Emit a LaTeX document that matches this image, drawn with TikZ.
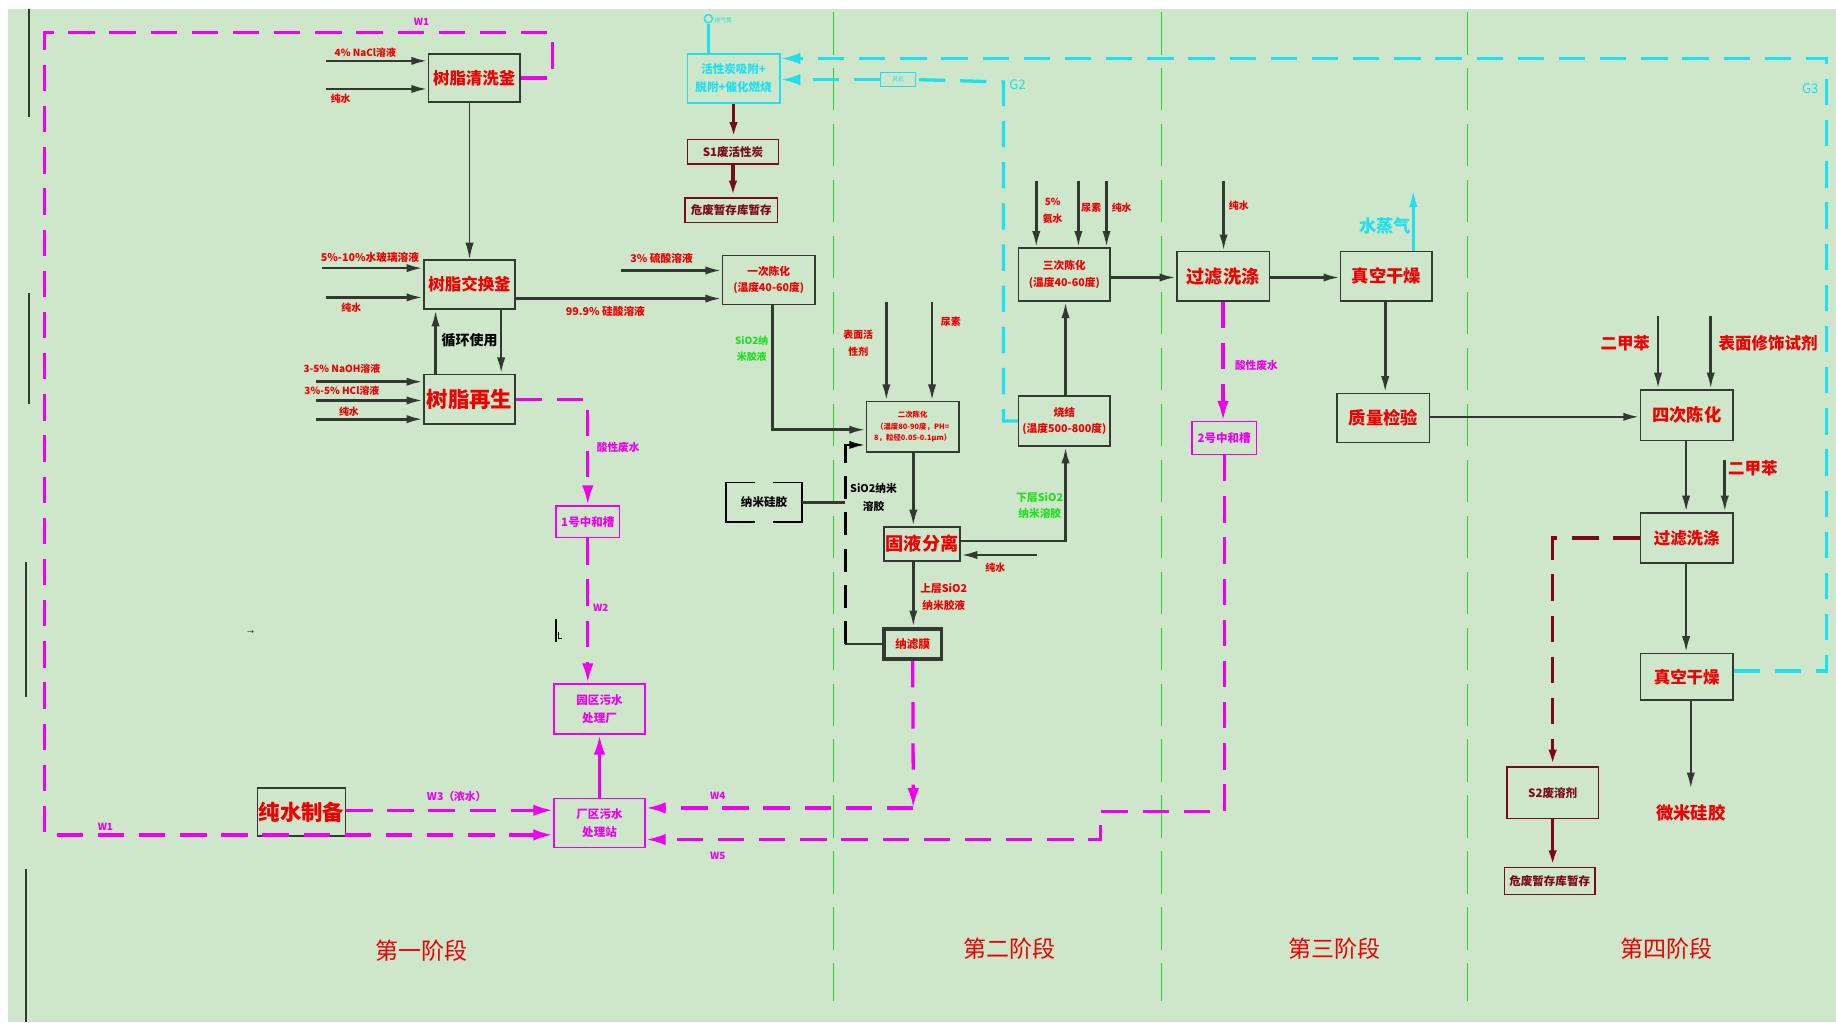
\documentclass[tikz,border=0pt]{standalone}
\usepackage{fontspec}
\setmainfont{Noto Sans CJK SC}
\usetikzlibrary{arrows.meta}
\definecolor{bg}{HTML}{CEE6CA}
\definecolor{rd}{HTML}{F00000}
\definecolor{mg}{HTML}{F000F0}
\definecolor{cy}{HTML}{20E0F0}
\definecolor{dr}{HTML}{7A0A14}
\definecolor{bk}{HTML}{333833}
\definecolor{gr}{HTML}{30D030}
\definecolor{lg}{HTML}{20E020}
\newcommand\fsz[2]{\fontsize{#1}{#2}\selectfont}
\newcommand\mybox[7]{\node[#6, minimum width={(#4-#2)*0.025cm}, minimum height={(#5-#3)*0.025cm}, inner sep=0pt] (#1) at ({(#2+#4)/2},{(#3+#5)/2}) {#7};}
\tikzset{
  pbox/.style={draw=bk, line width=0.9pt, text=rd, align=center},
  mgbox/.style={draw=mg, line width=0.9pt, text=mg, align=center},
  cybox/.style={draw=cy, line width=0.9pt, text=cy, align=center},
  drbox/.style={draw=dr, line width=0.9pt, text=dr, align=center},
  arr/.style={draw=bk, line width=1.6pt, -{Latex[length=10pt,width=5pt]}},
  kline/.style={draw=bk, line width=1.6pt},
  kdash/.style={draw=black, line width=1.6pt, dash pattern=on 14pt off 8pt, -{Latex[length=10pt,width=5pt]}},
  mdash/.style={draw=mg, line width=2pt, dash pattern=on 16pt off 9pt, -{Latex[length=12pt,width=7pt]}},
  msolid/.style={draw=mg, line width=2pt, -{Latex[length=12pt,width=7pt]}},
  cdash/.style={draw=cy, line width=2pt, dash pattern=on 16pt off 9pt, -{Latex[length=12pt,width=7pt]}},
  csolid/.style={draw=cy, line width=2pt, -{Latex[length=12pt,width=5pt]}},
  ddash/.style={draw=dr, line width=2pt, dash pattern=on 16pt off 9pt, -{Latex[length=10pt,width=5pt]}},
  dsolid/.style={draw=dr, line width=2pt, -{Latex[length=10pt,width=5pt]}},
  divider/.style={draw=gr, line width=0.7pt, dash pattern=on 26pt off 8pt},
  rlab/.style={text=rd, inner sep=0pt, align=center},
  mlab/.style={text=mg, inner sep=0pt, align=center},
  clab/.style={text=cy, inner sep=0pt, align=center},
  glab/.style={text=lg, inner sep=0pt, align=center},
  klab/.style={text=black, inner sep=0pt, align=center},
}
\begin{document}
\begin{tikzpicture}[x=0.025cm, y=-0.025cm]
\useasboundingbox (0,0) rectangle (1568,873);
\fill[white] (0,0) rectangle (1568,873);
\fill[bg] (7,8) rectangle (1568,873);
% left border segments
\draw[bk, line width=1pt] (25,8) -- (25,100) (25,250) -- (25,345) (22,480) -- (22,595) (22,742) -- (22,873);
% phase dividers
\draw[divider] (712,10) -- (712,855);
\draw[divider] (992,10) -- (992,855);
\draw[divider] (1253,10) -- (1253,855);
% phase labels
\node[rlab, font=\fsz{14}{16}] (p1) at (360,812) {第一阶段};
\node[rlab, font=\fsz{14}{16}] (p2) at (862,810) {第二阶段};
\node[rlab, font=\fsz{14}{16}] (p3) at (1140,810) {第三阶段};
\node[rlab, font=\fsz{14}{16}] (p4) at (1423,810) {第四阶段};

% ---------- boxes ----------
\mybox{qx}{366}{46}{444}{87}{pbox, font=\fsz{10}{12}\bfseries}{树脂清洗釜}
\mybox{jh}{362}{222}{440}{264}{pbox, font=\fsz{10}{12}\bfseries}{树脂交换釜}
\mybox{zs}{362}{320}{440}{362}{pbox, font=\fsz{13}{15}\bfseries}{树脂再生}
\mybox{cs}{220}{673}{295}{714}{pbox, font=\fsz{13}{15}\bfseries}{纯水制备}
\mybox{zh1}{475}{432}{529}{459}{mgbox, font=\fsz{7}{8}\bfseries}{1号中和槽}
\mybox{yq}{473}{584}{551}{627}{mgbox, font=\fsz{7}{11}\bfseries}{园区污水\\处理厂}
\mybox{cq}{473}{682}{551}{724}{mgbox, font=\fsz{7}{11}\bfseries}{厂区污水\\处理站}
\mybox{hx}{587}{46}{666}{88}{cybox, font=\fsz{7}{11}\bfseries}{活性炭吸附+\\脱附+催化燃烧}
\mybox{s1}{587}{119}{665}{140}{drbox, font=\fsz{7}{8}\bfseries}{S1废活性炭}
\mybox{wf1}{585}{169}{664}{190}{drbox, font=\fsz{7}{8}\bfseries}{危废暂存库暂存}
\mybox{fj}{752}{62}{782}{74}{cybox, line width=0.6pt, font=\fsz{3.5}{4}}{风机}
\node[circle, draw=cy, line width=0.8pt, inner sep=0pt, minimum size=5pt] (pq) at (605,16) {};
\node[clab, anchor=west, font=\fsz{3.5}{4}] (pqt) at (610,17) {排气筒};
\mybox{yc}{617}{218}{696}{260}{pbox, font=\fsz{6.5}{10}\bfseries}{一次陈化\\(温度40-60度)}
\mybox{ec}{740}{343}{819}{386}{pbox, font=\fsz{4.5}{7}\bfseries}{二次陈化\\（温度80-90度，PH=\\8，粒径0.05-0.1μm）}
\mybox{nm}{620}{412}{685}{446}{klab, font=\fsz{7}{8}\bfseries}{纳米硅胶}
\draw[black, line width=0.9pt] (645,412) -| (620,446) -- (645,446);
\draw[black, line width=0.9pt] (660,412) -| (685,446) -- (660,446);
\mybox{gy}{755}{450}{820}{479}{pbox, font=\fsz{11}{12}\bfseries}{固液分离}
\mybox{nl}{755}{537}{804}{563}{pbox, line width=2.2pt, font=\fsz{7}{8}\bfseries}{纳滤膜}
\mybox{sc}{870}{212}{948}{257}{pbox, font=\fsz{6.5}{10}\bfseries}{三次陈化\\(温度40-60度)}
\mybox{sj}{870}{338}{948}{381}{pbox, font=\fsz{6.5}{10}\bfseries}{烧结\\(温度500-800度)}
\mybox{gl3}{1005}{215}{1084}{257}{pbox, font=\fsz{11}{12}\bfseries}{过滤洗涤}
\mybox{gz3}{1145}{215}{1223}{257}{pbox, font=\fsz{10.5}{12}\bfseries}{真空干燥}
\mybox{zl}{1142}{336}{1221}{378}{pbox, font=\fsz{10.5}{12}\bfseries}{质量检验}
\mybox{zh2}{1018}{360}{1073}{388}{mgbox, font=\fsz{7}{8}\bfseries}{2号中和槽}
\mybox{sic}{1401}{333}{1480}{376}{pbox, font=\fsz{10.5}{12}\bfseries}{四次陈化}
\mybox{gl4}{1401}{438}{1480}{481}{pbox, font=\fsz{10}{12}\bfseries}{过滤洗涤}
\mybox{gz4}{1401}{558}{1480}{598}{pbox, font=\fsz{10}{12}\bfseries}{真空干燥}
\node[rlab, font=\fsz{10.5}{12}\bfseries] (wm) at (1444,694) {微米硅胶};
\mybox{s2}{1287}{655}{1365}{699}{drbox, font=\fsz{7}{8}\bfseries}{S2废溶剂}
\mybox{wf2}{1285}{741}{1362}{764}{drbox, font=\fsz{7}{8}\bfseries}{危废暂存库暂存}

% ---------- helper coordinates ----------
\coordinate (a1) at (278,52);
\coordinate (a2) at (278,76);
\coordinate (a3) at (275,229);
\coordinate (a4) at (278,254);
\coordinate (a5) at (530,231);
\coordinate (r1) at (270,326);
\coordinate (r2) at (270,342);
\coordinate (r3) at (270,358);
\coordinate (h1) at (0,255);
\coordinate (vx0) at (401,0);
\coordinate (vx1) at (372,0);
\coordinate (vx2) at (428,0);
\coordinate (h3) at (0,692);
\coordinate (w1a) at (472,28);
\coordinate (w1b) at (38,28);
\coordinate (w1c) at (38,713);
\coordinate (w4) at (780,690);
\coordinate (w5a) at (940,693);
\coordinate (w5b) at (940,717);
\coordinate (g2b) at (857,70);
\coordinate (g3a) at (1560,573);
\coordinate (g3b) at (1560,50);
\coordinate (sq) at (1207,160);
\coordinate (y1) at (660,367);
\coordinate (e1) at (757,258);
\coordinate (e2) at (796,258);
\coordinate (nd) at (722,428);
\coordinate (d1) at (722,550);
\coordinate (d2) at (722,380);
\coordinate (vx3) at (780,0);
\coordinate (h4) at (0,462);
\coordinate (vx4) at (910,0);
\coordinate (a6) at (886,474);
\coordinate (b1) at (885,155);
\coordinate (b2) at (921,155);
\coordinate (b3) at (945,155);
\coordinate (b4) at (1045,155);
\coordinate (h5) at (0,237);
\coordinate (vx5) at (1183,0);
\coordinate (h6) at (0,356);
\coordinate (c1) at (1416,270);
\coordinate (c2) at (1461,270);
\coordinate (c3) at (1473,393);
\coordinate (vx6) at (1440,0);
\coordinate (vx7) at (1444,0);

% ---------- stage 1 connectors ----------
\draw[arr] (a1) -- (a1 -| qx.west);
\draw[arr] (a2) -- (a2 -| qx.west);
\node[rlab, font=\fsz{6}{7}\bfseries] (la1) at (312,45) {4\% NaCl溶液};
\node[rlab, font=\fsz{6}{7}\bfseries] (la2) at (291,84) {纯水};
\draw[arr, line width=1pt] (vx0 |- qx.south) -- (vx0 |- jh.north);
\draw[arr] (a3) -- (a3 -| jh.west);
\draw[arr] (a4) -- (a4 -| jh.west);
\node[rlab, font=\fsz{6.5}{7}\bfseries] (la3) at (316,220) {5\%-10\%水玻璃溶液};
\node[rlab, font=\fsz{6}{7}\bfseries] (la4) at (300,263) {纯水};
\draw[arr] (jh.east |- h1) -- (yc.west |- h1);
\node[rlab, font=\fsz{6.5}{7}\bfseries] (la5) at (517,266) {99.9\% 硅酸溶液};
\draw[arr] (a5) -- (a5 -| yc.west);
\node[rlab, font=\fsz{6.5}{7}\bfseries] (la6) at (565,221) {3\% 硫酸溶液};
\draw[arr] (vx1 |- zs.north) -- (vx1 |- jh.south);
\draw[arr] (vx2 |- jh.south) -- (vx2 |- zs.north);
\node[klab, font=\fsz{8.5}{9}\bfseries] (lxh) at (401,291) {循环使用};
\draw[arr] (r1) -- (r1 -| zs.west);
\draw[arr] (r2) -- (r2 -| zs.west);
\draw[arr] (r3) -- (r3 -| zs.west);
\node[rlab, font=\fsz{6}{7}\bfseries] (lr1) at (292,315) {3-5\% NaOH溶液};
\node[rlab, font=\fsz{6}{7}\bfseries] (lr2) at (292,334) {3\%-5\% HCl溶液};
\node[rlab, font=\fsz{6}{7}\bfseries] (lr3) at (298,352) {纯水};
% waste water
\draw[mdash] (zs.east) -| (zh1.north);
\node[mlab, font=\fsz{6.5}{7}\bfseries] (lsf1) at (528,382) {酸性废水};
\draw[mdash] (zh1.south) -- (zh1.south |- yq.north);
\node[mlab, font=\fsz{6}{7}\bfseries] (lw2) at (513,519) {W2};
\draw[msolid] (cq.north) -- (yq.south);
\draw[mdash] (cs.east |- h3) -- (cq.west |- h3);
\node[mlab, font=\fsz{6.5}{7}\bfseries] (lw3) at (390,680) {W3（浓水）};
\draw[mdash] (qx.east) -| (w1a) -- (w1b) -- (w1c) -- (cq.west |- w1c);
\node[mlab, font=\fsz{6}{7}\bfseries] (lw1a) at (360,19) {W1};
\node[mlab, font=\fsz{6}{7}\bfseries] (lw1b) at (90,706) {W1};
\draw[mdash] (nl.south) -- (w4);
\draw[mdash] (w4) -- (cq.east |- w4);
\node[mlab, font=\fsz{6}{7}\bfseries] (lw4) at (613,680) {W4};
\draw[mdash] (gl3.south) -- (gl3.south |- zh2.north);
\node[mlab, font=\fsz{6.5}{7}\bfseries] (lsf2) at (1073,312) {酸性废水};
\draw[mdash] (zh2.south) |- (w5a) -- (w5b) -- (cq.east |- w5b);
\node[mlab, font=\fsz{6}{7}\bfseries] (lw5) at (613,731) {W5};
% small marks
\node[klab, font=\fsz{4}{4}] (arrowmark) at (214,540) {→};
\draw[black, line width=1pt] (475,529) -- (475,548);
\draw[black, line width=0.4pt] (477,540) -- (477,545) -- (480,545);

% ---------- waste gas ----------
\draw[cy, line width=2pt] (pq.south) -- (pq.south |- hx.north);
\draw[cdash, -] (sj.west) -| (g2b) -- (fj.east);
\draw[cdash] (fj.west) -- (hx.east |- fj.west);
\node[clab, font=\fsz{8}{9}] (lg2) at (869,72) {G2};
\draw[cdash] (gz4.east |- g3a) -- (g3a) -- (g3b) -- (hx.east |- g3b);
\node[clab, font=\fsz{8}{9}] (lg3) at (1546,76) {G3};
\draw[csolid] (gz3.north -| sq) -- (sq);
\node[clab, font=\fsz{10.5}{12}\bfseries] (lsq) at (1183,193) {水蒸气};
\draw[dsolid] (hx.south) -- (hx.south |- s1.north);
\draw[dsolid] (s1.south) -- (s1.south |- wf1.north);

% ---------- stage 2 ----------
\draw[arr] (yc.south -| y1) -- (y1) -- (ec.west |- y1);
\node[glab, font=\fsz{6}{10}\bfseries] (lsio1) at (642,298) {SiO2纳\\米胶液};
\draw[arr] (e1) -- (e1 |- ec.north);
\draw[arr] (e2) -- (e2 |- ec.north);
\node[rlab, font=\fsz{6}{10}\bfseries] (le1) at (733,293) {表面活\\性剂};
\node[rlab, font=\fsz{6}{7}\bfseries] (le2) at (812,275) {尿素};
\draw[kline, line width=2.2pt] (nm.east) -- (nm.east -| nd);
\draw[kline] (nl.west |- d1) -- (d1);
\draw[kdash] (d1) -- (d2) -- (ec.west |- d2);
\node[klab, font=\fsz{6.5}{11}\bfseries] (lnm) at (746,425) {SiO2纳米\\溶胶};
\draw[arr] (vx3 |- ec.south) -- (vx3 |- gy.north);
\draw[arr] (vx3 |- gy.south) -- (vx3 |- nl.north);
\node[rlab, font=\fsz{6.5}{10}\bfseries] (lsc) at (806,510) {上层SiO2\\纳米胶液};
\draw[arr] (gy.east |- h4) -| (vx4 |- sj.south);
\node[glab, font=\fsz{6.5}{10}\bfseries] (lxc) at (888,432) {下层SiO2\\纳米溶胶};
\draw[arr] (a6) -- (a6 -| gy.east);
\node[rlab, font=\fsz{6}{7}\bfseries] (la7) at (850,485) {纯水};
\draw[arr] (vx4 |- sj.north) -- (vx4 |- sc.south);
\draw[arr] (b1) -- (b1 |- sc.north);
\draw[arr] (b2) -- (b2 |- sc.north);
\draw[arr] (b3) -- (b3 |- sc.north);
\node[rlab, font=\fsz{6}{10}\bfseries] (lb1) at (899,180) {5\%\\氨水};
\node[rlab, font=\fsz{6}{7}\bfseries] (lb2) at (932,177) {尿素};
\node[rlab, font=\fsz{6}{7}\bfseries] (lb3) at (958,177) {纯水};

% ---------- stage 3 ----------
\draw[arr] (sc.east |- h5) -- (gl3.west |- h5);
\draw[arr] (b4) -- (b4 |- gl3.north);
\node[rlab, font=\fsz{6}{7}\bfseries] (lb4) at (1058,176) {纯水};
\draw[arr] (gl3.east |- h5) -- (gz3.west |- h5);
\draw[arr] (vx5 |- gz3.south) -- (vx5 |- zl.north);
\draw[arr] (zl.east |- h6) -- (sic.west |- h6);

% ---------- stage 4 ----------
\draw[arr] (c1) -- (c1 |- sic.north);
\draw[arr] (c2) -- (c2 |- sic.north);
\node[rlab, font=\fsz{10}{12}\bfseries] (lc1) at (1388,293) {二甲苯};
\node[rlab, font=\fsz{10}{12}\bfseries] (lc2) at (1510,293) {表面修饰试剂};
\draw[arr] (vx6 |- sic.south) -- (vx6 |- gl4.north);
\draw[arr] (c3) -- (c3 |- gl4.north);
\node[rlab, font=\fsz{10}{12}\bfseries] (lc3) at (1497,400) {二甲苯};
\draw[arr] (vx6 |- gl4.south) -- (vx6 |- gz4.north);
\draw[arr, shorten >=9pt] (vx7 |- gz4.south) -- (vx7 |- wm.north);
\draw[ddash] (gl4.west) -| (s2.north);
\draw[dsolid] (s2.south) -- (s2.south |- wf2.north);
\end{tikzpicture}
\end{document}
